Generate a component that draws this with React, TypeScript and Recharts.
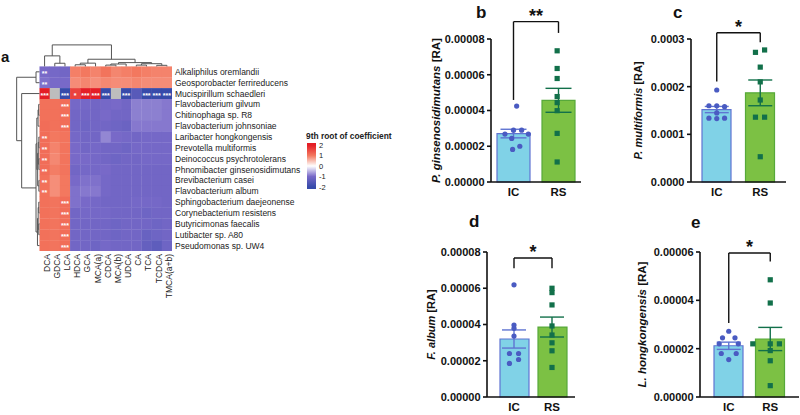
import React from 'react';
import {
  ScatterChart, Scatter, XAxis, YAxis, ComposedChart, Bar, Cell, ErrorBar,
  ReferenceLine, BarChart,
} from 'recharts';

const FONT = '"Liberation Sans", Arial, Helvetica, sans-serif';

// ---------------- heatmap data ----------------
const colLabels = ['DCA', 'GDCA', 'LCA', 'HDCA', 'GCA', 'MCA(a)', 'CDCA', 'MCA(b)', 'UDCA', 'CA', 'TCA', 'TCDCA', 'TMCA(a+b)'];
const rowLabels = [
  'Alkaliphilus oremlandii', 'Geosporobacter ferrireducens', 'Mucispirillum schaedleri',
  'Flavobacterium gilvum', 'Chitinophaga sp. R8', 'Flavobacterium johnsoniae',
  'Laribacter hongkongensis', 'Prevotella multiformis', 'Deinococcus psychrotolerans',
  'Phnomibacter ginsenosidimutans', 'Brevibacterium casei', 'Flavobacterium album',
  'Sphingobacterium daejeonense', 'Corynebacterium resistens', 'Butyricimonas faecalis',
  'Lutibacter sp. A80', 'Pseudomonas sp. UW4',
];
const heatValues: (number | null)[][] = [
  [-1.0, -1.05, -1.1, 0.95, 1.0, 0.92, 1.05, 0.9, 0.95, 1.0, 0.95, 0.92, 0.92],
  [-0.95, -1.0, -1.0, 0.85, 0.9, 0.82, 0.88, 0.85, 0.85, 0.9, 0.85, 0.85, 0.85],
  [2.0, null, -2.0, 1.6, 2.0, 2.0, -2.0, null, -2.0, -1.5, -2.0, -2.0, -2.0],
  [1.08, 1.08, 1.12, -1.05, -1.05, -1.1, -1.05, -1.0, -1.1, -0.85, -0.85, -0.85, -0.9],
  [1.08, 1.08, 1.12, -1.1, -1.1, -1.1, -1.0, -1.1, -1.1, -0.85, -0.85, -0.85, -0.9],
  [1.12, 1.08, 1.12, -1.1, -1.15, -1.1, -1.1, -1.15, -1.2, -0.9, -0.9, -0.9, -0.9],
  [1.12, 1.0, 1.04, -1.05, -1.1, -1.1, -0.8, -1.0, -1.05, -1.1, -1.05, -1.05, -1.05],
  [1.12, 0.92, 1.04, -1.0, -1.1, -1.05, -1.1, -1.1, -1.15, -1.05, -1.05, -1.05, -1.05],
  [1.12, 0.88, 1.04, -1.0, -1.0, -1.05, -1.1, -1.15, -1.1, -1.1, -1.05, -1.05, -1.05],
  [1.12, 0.96, 1.04, -1.1, -1.05, -1.05, -1.0, -1.1, -1.1, -1.1, -1.1, -1.1, -1.1],
  [1.08, 0.84, 1.0, -1.0, -0.95, -0.95, -1.05, -1.1, -1.1, -1.1, -1.1, -1.1, -1.1],
  [1.08, 0.84, 1.0, -0.95, -0.9, -0.9, -1.05, -1.1, -1.1, -1.1, -1.1, -1.1, -1.1],
  [1.08, 1.04, 1.12, -0.95, -1.0, -1.05, -1.1, -1.1, -1.1, -1.05, -1.05, -1.05, -1.1],
  [1.08, 1.04, 1.12, -1.1, -1.05, -1.05, -1.05, -1.1, -1.1, -1.1, -1.15, -1.1, -1.1],
  [1.08, 1.04, 1.12, -1.1, -1.1, -1.1, -1.1, -1.15, -1.1, -1.1, -1.1, -1.15, -1.1],
  [1.08, 1.04, 1.12, -1.1, -1.1, -1.1, -1.1, -1.15, -1.1, -1.1, -1.25, -1.15, -1.1],
  [1.08, 1.04, 1.12, -1.1, -1.1, -1.15, -1.05, -1.1, -1.1, -1.1, -1.3, -1.4, -1.15],
];
// [row, col, stars]
const starCells: [number, number, string][] = [
  [0, 0, '**'], [1, 0, '**'],
  [2, 0, '***'], [2, 2, '***'], [2, 3, '*'], [2, 4, '***'], [2, 5, '***'], [2, 6, '***'],
  [2, 8, '***'], [2, 10, '***'], [2, 11, '***'], [2, 12, '***'],
  [3, 2, '***'], [4, 2, '***'], [5, 2, '***'],
  [6, 0, '**'], [7, 0, '**'], [8, 0, '**'], [9, 0, '**'], [10, 0, '**'], [11, 0, '**'],
  [12, 2, '***'], [13, 2, '***'], [14, 2, '***'], [15, 2, '***'], [16, 2, '***'],
];
// dendrogram merges: [pos1, height1, pos2, height2, mergeHeight]
const topMerges: number[][] = [
  [1.5, 0, 2.5, 0, 0.29],
  [0.5, 0, 2.0, 0.29, 0.97],
  [3.5, 0, 4.5, 0, 0.15],
  [4.0, 0.15, 5.5, 0, 0.3],
  [6.5, 0, 7.5, 0, 0.12],
  [7.0, 0.12, 8.5, 0, 0.22],
  [9.5, 0, 10.5, 0, 0.12],
  [11.5, 0, 12.5, 0, 0.1],
  [10.0, 0.12, 12.0, 0.1, 0.25],
  [7.75, 0.22, 11.0, 0.25, 0.35],
  [4.75, 0.3, 9.375, 0.35, 0.66],
  [1.25, 0.97, 7.06, 0.66, 1.98],
];
const leftMerges: number[][] = [
  [0.5, 0, 1.5, 0, 0.34],
  [3.5, 0, 4.5, 0, 0.08],
  [4.0, 0.08, 5.5, 0, 0.14],
  [6.5, 0, 7.5, 0, 0.06],
  [8.5, 0, 9.5, 0, 0.06],
  [10.5, 0, 11.5, 0, 0.06],
  [7.0, 0.06, 9.0, 0.06, 0.12],
  [8.0, 0.12, 11.0, 0.06, 0.18],
  [12.5, 0, 13.5, 0, 0.07],
  [14.5, 0, 15.5, 0, 0.07],
  [13.0, 0.07, 15.0, 0.07, 0.13],
  [14.0, 0.13, 16.5, 0, 0.2],
  [4.75, 0.14, 9.5, 0.18, 0.26],
  [7.125, 0.26, 15.25, 0.2, 0.34],
  [2.5, 0, 11.19, 0.34, 1.75],
  [1.0, 0.34, 6.84, 1.75, 2.24],
];
const legendTicks = [-2, -1, 0, 1, 2];

// ---------------- bar panel data ----------------
const groups = ['IC', 'RS'];

const bTicks = [0, 2e-5, 4e-5, 6e-5, 8e-5];
const bMeans = [2.71e-5, 4.57e-5];
const bSems = [0.24e-5, 0.67e-5];
const bIC = [4.25e-5, 2.9e-5, 2.9e-5, 2.68e-5, 2.68e-5, 2.44e-5, 2.0e-5, 1.82e-5];
const bICdx = [0.07, 0.0, 0.18, -0.19, 0.33, -0.04, 0.14, -0.02];
const bRS = [7.34e-5, 6.35e-5, 5.79e-5, 4.78e-5, 4.44e-5, 3.99e-5, 2.72e-5, 1.12e-5];
const bRSdx = [-0.03, -0.03, -0.03, -0.03, -0.03, -0.03, -0.03, -0.03];
const bBracket = [4.59e-5, 8.34e-5, 8.97e-5];

const cTicks = [0, 1e-4, 2e-4, 3e-4];
const cMeans = [1.52e-4, 1.87e-4];
const cSems = [0.065e-4, 0.27e-4];
const cIC = [1.93e-4, 1.6e-4, 1.6e-4, 1.58e-4, 1.45e-4, 1.34e-4, 1.34e-4, 1.33e-4];
const cICdx = [0.0, -0.18, 0.0, 0.18, 0.0, -0.18, 0.18, 0.0];
const cRS = [2.77e-4, 2.72e-4, 2.41e-4, 2.1e-4, 1.72e-4, 1.36e-4, 1.36e-4, 0.53e-4];
const cRSdx = [0.1, -0.11, 0.0, 0.0, 0.0, -0.11, 0.1, 0.0];
const cBracket = [2.11e-4, 2.93e-4, 3.13e-4];

const dTicks = [0, 2e-5, 4e-5, 6e-5, 8e-5];
const dMeans = [3.2e-5, 3.86e-5];
const dSems = [0.5e-5, 0.55e-5];
const dIC = [6.19e-5, 3.97e-5, 3.79e-5, 3.36e-5, 2.4e-5, 2.4e-5, 2.07e-5, 1.85e-5];
const dICdx = [0.0, 0.0, 0.0, 0.0, -0.12, 0.12, 0.12, -0.12];
const dRS = [6.0e-5, 5.76e-5, 5.08e-5, 3.92e-5, 3.42e-5, 2.99e-5, 2.55e-5, 1.63e-5];
const dRSdx = [0, 0, 0, 0, 0, 0, 0, 0];
const dBracket = [7.11e-5, 7.11e-5, 7.67e-5];

const eTicks = [0, 2e-5, 4e-5, 6e-5];
const eMeans = [2.12e-5, 2.4e-5];
const eSems = [0.15e-5, 0.48e-5];
const eIC = [2.72e-5, 2.45e-5, 2.45e-5, 2.2e-5, 2.2e-5, 1.8e-5, 1.8e-5, 1.55e-5];
const eICdx = [0.0, -0.15, 0.15, -0.23, 0.23, -0.18, 0.18, 0.0];
const eRS = [4.85e-5, 3.89e-5, 2.2e-5, 2.2e-5, 2.2e-5, 1.92e-5, 1.5e-5, 0.47e-5];
const eRSdx = [0, 0, -0.42, 0, 0.22, 0, 0, 0];
const eBracket = [3.06e-5, 5.61e-5, 5.96e-5];

// ---------------- colours ----------------
const colorStops: [number, number[]][] = [
  [-2, [55, 75, 170]],
  [-1, [120, 105, 200]],
  [0, [255, 255, 255]],
  [1, [243, 120, 95]],
  [2, [228, 30, 38]],
];
function heatColor(v: number | null): string {
  if (v === null || v === undefined) return '#bdbdbd';
  const x = Math.max(-2, Math.min(2, v));
  for (let i = 0; i < colorStops.length - 1; i++) {
    const [a, ca] = colorStops[i];
    const [b, cb] = colorStops[i + 1];
    if (x >= a && x <= b) {
      const t = (x - a) / (b - a);
      const c = ca.map((k, j) => Math.round(k + (cb[j] - k) * t));
      return `rgb(${c[0]},${c[1]},${c[2]})`;
    }
  }
  return '#fff';
}

// ---------------- heatmap geometry ----------------
const HM_W = 322;
const HM_H = 311;
const HM_M = { top: 36, left: 8, right: 0, bottom: 0 };
const HM_YAXIS_W = 150;
const HM_XAXIS_H = 60;
const HM_XDOM: [number, number] = [-3.09, 13];
const HM_YDOM: [number, number] = [-2.8, 17];
const cellW = (HM_W - HM_M.left - HM_M.right - HM_YAXIS_W) / (HM_XDOM[1] - HM_XDOM[0]);
const cellH = (HM_H - HM_M.top - HM_M.bottom - HM_XAXIS_H) / (HM_YDOM[1] - HM_YDOM[0]);

const starMap: Record<string, string> = {};
starCells.forEach(([r, c, s]) => { starMap[`${r}-${c}`] = s; });

const cellData = heatValues.flatMap((row, r) =>
  row.map((v, c) => ({ x: c + 0.5, y: r + 0.5, color: heatColor(v), star: starMap[`${r}-${c}`] || '' })),
);

const uTop = (m: number[]) => [
  { x: m[0], y: -m[1] }, { x: m[0], y: -m[4] }, { x: m[2], y: -m[4] }, { x: m[2], y: -m[3] },
];
const uLeft = (m: number[]) => [
  { x: -m[1], y: m[0] }, { x: -m[4], y: m[0] }, { x: -m[4], y: m[2] }, { x: -m[3], y: m[2] },
];

const Empty = () => <g />;

const HeatCell = (p: any) => {
  const { cx, cy, payload } = p;
  return (
    <g>
      <rect x={cx - cellW / 2} y={cy - cellH / 2} width={cellW + 0.3} height={cellH + 0.3} fill={payload.color} />
      {payload.star ? (
        <text x={cx} y={cy + 4.2} textAnchor="middle" fontSize={7} fontWeight={700} fill="#fff" fontFamily={FONT}>
          {payload.star}
        </text>
      ) : null}
    </g>
  );
};

const ColTick = (p: any) => {
  const { x, y, payload } = p;
  const idx = Math.floor(payload.value);
  const tx = x + 2;
  return (
    <text x={tx} y={y} transform={`rotate(-90 ${tx} ${y})`} textAnchor="end" dy="0.35em"
      fontSize={8.5} fill="#222" fontFamily={FONT}>
      {colLabels[idx]}
    </text>
  );
};

const RowTick = (p: any) => {
  const { x, y, payload } = p;
  return (
    <text x={x} y={y} dy="0.35em" textAnchor="start" fontSize={8.5} fill="#222" fontFamily={FONT}>
      {rowLabels[Math.floor(payload.value)]}
    </text>
  );
};

const LegendTick = (p: any) => {
  const { x, y, payload } = p;
  return (
    <text x={x} y={y} dy="0.35em" textAnchor="start" fontSize={7.5} fill="#222" fontFamily={FONT}>
      {String(payload.value)}
    </text>
  );
};

function Heatmap() {
  return (
    <div style={{ position: 'absolute', left: 0, top: 0, width: HM_W, height: HM_H }}>
      <ScatterChart width={HM_W} height={HM_H} margin={HM_M}>
        <XAxis type="number" dataKey="x" domain={HM_XDOM} ticks={colLabels.map((_, i) => i + 0.5)}
          interval={0} height={HM_XAXIS_H} axisLine={false} tickLine={false} tickSize={0} tickMargin={3}
          tick={<ColTick />} allowDataOverflow />
        <YAxis type="number" dataKey="y" domain={HM_YDOM} reversed orientation="right" width={HM_YAXIS_W}
          ticks={rowLabels.map((_, i) => i + 0.5)} interval={0} axisLine={false} tickLine={false}
          tickSize={0} tickMargin={3} allowDataOverflow tick={<RowTick />} />
        <Scatter data={cellData} dataKey="y" shape={HeatCell} isAnimationActive={false} />
        {topMerges.map((m, i) => (
          <Scatter key={'t' + i} data={uTop(m)} dataKey="y" shape={Empty}
            line={{ stroke: '#555', strokeWidth: 1 }} isAnimationActive={false} />
        ))}
        {leftMerges.map((m, i) => (
          <Scatter key={'l' + i} data={uLeft(m)} dataKey="y" shape={Empty}
            line={{ stroke: '#555', strokeWidth: 1 }} isAnimationActive={false} />
        ))}
      </ScatterChart>
    </div>
  );
}

function ColorLegend() {
  const stops = [2.2, 2, 1.5, 1, 0.5, 0, -0.5, -1, -1.5, -2, -2.2];
  return (
    <>
      <div style={{ position: 'absolute', left: 306, top: 131, fontFamily: FONT, fontSize: 8.4, fontWeight: 700, color: '#222', lineHeight: '10px', whiteSpace: 'nowrap' }}>
        9th root of coefficient
      </div>
      <div style={{ position: 'absolute', left: 307, top: 137, width: 40, height: 58 }}>
        <BarChart width={40} height={58} data={[{ k: 'c', r: [-2.2, 2.2] }]} margin={{ top: 6, right: 0, bottom: 6, left: 0 }} barCategoryGap={0}>
          <defs>
            <linearGradient id="cbGrad" x1="0" y1="0" x2="0" y2="1">
              {stops.map((v, i) => (
                <stop key={i} offset={`${((2.2 - v) / 4.4) * 100}%`} stopColor={heatColor(v)} />
              ))}
            </linearGradient>
          </defs>
          <XAxis dataKey="k" hide />
          <YAxis orientation="right" domain={[-2.2, 2.2]} ticks={legendTicks} width={31} axisLine={false}
            tickLine={false} tickSize={0} tickMargin={3} interval={0} tick={<LegendTick />} />
          <Bar dataKey="r" fill="url(#cbGrad)" isAnimationActive={false} />
        </BarChart>
      </div>
    </>
  );
}

// ---------------- bar panels ----------------
type PanelCfg = {
  plotLeft: number; plotRight: number; plotTop: number; plotBottom: number; pad: [number, number];
  yMax: number; ticks: number[]; dec: number; barSize: number; capW: number;
  means: number[]; sems: number[]; ic: number[]; icDx: number[]; rs: number[]; rsDx: number[];
  bracket: number[]; star: string; species: string; labelOffset: number; labelSize: number;
};

const IC_FILL = '#80d2e7';
const IC_STROKE = '#5f74d2';
const IC_DOT = '#4a5bc2';
const RS_FILL = '#7cc144';
const RS_STROKE = '#57a93a';
const RS_DOT = '#12704a';

const CircleDot = (p: any) => <circle cx={p.cx} cy={p.cy} r={2.6} fill={IC_DOT} />;
const SquareDot = (p: any) => <rect x={p.cx - 2.6} y={p.cy - 2.6} width={5.2} height={5.2} fill={RS_DOT} />;

function BarPanel({ cfg }: { cfg: PanelCfg }) {
  const yAxisW = 64;
  const mt = 36;
  const xAxisH = 22;
  const mr = 1;
  const left = cfg.plotLeft - yAxisW;
  const top = cfg.plotTop - mt;
  const width = cfg.plotRight - cfg.plotLeft + yAxisW + mr;
  const height = cfg.plotBottom - cfg.plotTop + mt + xAxisH;
  const barData = groups.map((g, i) => ({ group: g, mean: cfg.means[i] }));
  const icPts = cfg.ic.map((y, i) => ({ x: 0.5 + cfg.icDx[i], y }));
  const rsPts = cfg.rs.map((y, i) => ({ x: 1.5 + cfg.rsDx[i], y }));
  const icErr = [{ x: 0.5, y: cfg.means[0], err: cfg.sems[0] }];
  const rsErr = [{ x: 1.5, y: cfg.means[1], err: cfg.sems[1] }];
  const br = cfg.bracket;
  const yLabel = (props: any) => {
    const vb = props.viewBox || {};
    const axisX = vb.x + vb.width;
    const cx = axisX - cfg.labelOffset;
    const cy = vb.y + vb.height / 2;
    return (
      <text x={cx} y={cy} transform={`rotate(-90 ${cx} ${cy})`} textAnchor="middle" dominantBaseline="central"
        fontFamily={FONT} fontSize={cfg.labelSize} fontWeight={700} fill="#111">
        <tspan fontStyle="italic">{cfg.species}</tspan>
        <tspan>{'\u00a0[RA]'}</tspan>
      </text>
    );
  };
  const lineStyle = { stroke: '#111', strokeWidth: 1.4 };
  return (
    <div style={{ position: 'absolute', left, top, width, height }}>
      <ComposedChart width={width} height={height} data={barData} margin={{ top: mt, right: mr, bottom: 0, left: 0 }}>
        <XAxis xAxisId="c" dataKey="group" type="category" padding={{ left: cfg.pad[0], right: cfg.pad[1] }}
          height={xAxisH} axisLine={{ stroke: '#111', strokeWidth: 1.6 }} tickLine={false} tickSize={0} tickMargin={6}
          tick={{ fontSize: 11.5, fontWeight: 700, fill: '#111', fontFamily: FONT }} />
        <XAxis xAxisId="s" dataKey="x" type="number" domain={[0, 2]} hide padding={{ left: cfg.pad[0], right: cfg.pad[1] }} />
        <YAxis domain={[0, cfg.yMax]} ticks={cfg.ticks} interval={0} width={yAxisW}
          tickFormatter={(v: number) => v.toFixed(cfg.dec)}
          axisLine={{ stroke: '#111', strokeWidth: 1.6 }} tickLine={{ stroke: '#111', strokeWidth: 1.6 }}
          tickSize={4} tickMargin={2.5}
          tick={{ fontSize: 11, fontWeight: 700, fill: '#111', fontFamily: FONT }}
          label={yLabel} />
        <Bar xAxisId="c" dataKey="mean" barSize={cfg.barSize} isAnimationActive={false} strokeWidth={1.2}>
          <Cell fill={IC_FILL} stroke={IC_STROKE} />
          <Cell fill={RS_FILL} stroke={RS_STROKE} />
        </Bar>
        <Scatter xAxisId="s" data={icPts} dataKey="y" shape={CircleDot} isAnimationActive={false} />
        <Scatter xAxisId="s" data={rsPts} dataKey="y" shape={SquareDot} isAnimationActive={false} />
        <Scatter xAxisId="s" data={icErr} dataKey="y" shape={Empty} isAnimationActive={false}>
          <ErrorBar dataKey="err" direction="y" width={cfg.capW} stroke={IC_STROKE} strokeWidth={1.4} />
        </Scatter>
        <Scatter xAxisId="s" data={rsErr} dataKey="y" shape={Empty} isAnimationActive={false}>
          <ErrorBar dataKey="err" direction="y" width={cfg.capW} stroke={RS_DOT} strokeWidth={1.4} />
        </Scatter>
        <ReferenceLine xAxisId="s" segment={[{ x: 0.5, y: br[0] }, { x: 0.5, y: br[2] }]} ifOverflow="visible" {...lineStyle} />
        <ReferenceLine xAxisId="s" segment={[{ x: 0.5, y: br[2] }, { x: 1.5, y: br[2] }]} ifOverflow="visible" {...lineStyle}
          label={{ value: cfg.star, position: 'top', offset: 0, fontSize: 18, fontWeight: 700, fill: '#111', fontFamily: FONT }} />
        <ReferenceLine xAxisId="s" segment={[{ x: 1.5, y: br[2] }, { x: 1.5, y: br[1] }]} ifOverflow="visible" {...lineStyle} />
      </ComposedChart>
    </div>
  );
}

const panelB: PanelCfg = {
  plotLeft: 491, plotRight: 581, plotTop: 39, plotBottom: 182, pad: [0, 0], yMax: 8e-5, ticks: bTicks, dec: 5,
  barSize: 33, capW: 13, means: bMeans, sems: bSems, ic: bIC, icDx: bICdx, rs: bRS, rsDx: bRSdx,
  bracket: bBracket, star: '**', species: 'P. ginsenosidimutans', labelOffset: 55, labelSize: 11.5,
};
const panelC: PanelCfg = {
  plotLeft: 691, plotRight: 786, plotTop: 39, plotBottom: 182, pad: [4, 4], yMax: 3e-4, ticks: cTicks, dec: 4,
  barSize: 29, capW: 12, means: cMeans, sems: cSems, ic: cIC, icDx: cICdx, rs: cRS, rsDx: cRSdx,
  bracket: cBracket, star: '*', species: 'P. multiformis', labelOffset: 53, labelSize: 11,
};
const panelD: PanelCfg = {
  plotLeft: 487, plotRight: 575, plotTop: 252, plotBottom: 397, pad: [8, 4], yMax: 8e-5, ticks: dTicks, dec: 5,
  barSize: 29, capW: 12, means: dMeans, sems: dSems, ic: dIC, icDx: dICdx, rs: dRS, rsDx: dRSdx,
  bracket: dBracket, star: '*', species: 'F. album', labelOffset: 56, labelSize: 11,
};
const panelE: PanelCfg = {
  plotLeft: 700, plotRight: 799, plotTop: 252, plotBottom: 397, pad: [8, 8], yMax: 6e-5, ticks: eTicks, dec: 5,
  barSize: 29, capW: 12, means: eMeans, sems: eSems, ic: eIC, icDx: eICdx, rs: eRS, rsDx: eRSdx,
  bracket: eBracket, star: '*', species: 'L. hongkongensis', labelOffset: 58, labelSize: 11.5,
};

const letterStyle = (left: number, baseline: number, size: number): React.CSSProperties => ({
  position: 'absolute', left, top: baseline - size * 0.8465, fontFamily: FONT, fontSize: size,
  fontWeight: 700, lineHeight: `${size}px`, color: '#111',
});

export default function App() {
  return (
    <div style={{ position: 'absolute', left: 0, top: 0, width: 800, height: 415, background: '#fff', overflow: 'hidden' }}>
      <Heatmap />
      <ColorLegend />
      <BarPanel cfg={panelB} />
      <BarPanel cfg={panelC} />
      <BarPanel cfg={panelD} />
      <BarPanel cfg={panelE} />
      <div style={letterStyle(1, 62, 15)}>a</div>
      <div style={letterStyle(476, 18, 17)}>b</div>
      <div style={letterStyle(673, 18, 17)}>c</div>
      <div style={letterStyle(469, 227, 17)}>d</div>
      <div style={letterStyle(691, 228, 17)}>e</div>
    </div>
  );
}
